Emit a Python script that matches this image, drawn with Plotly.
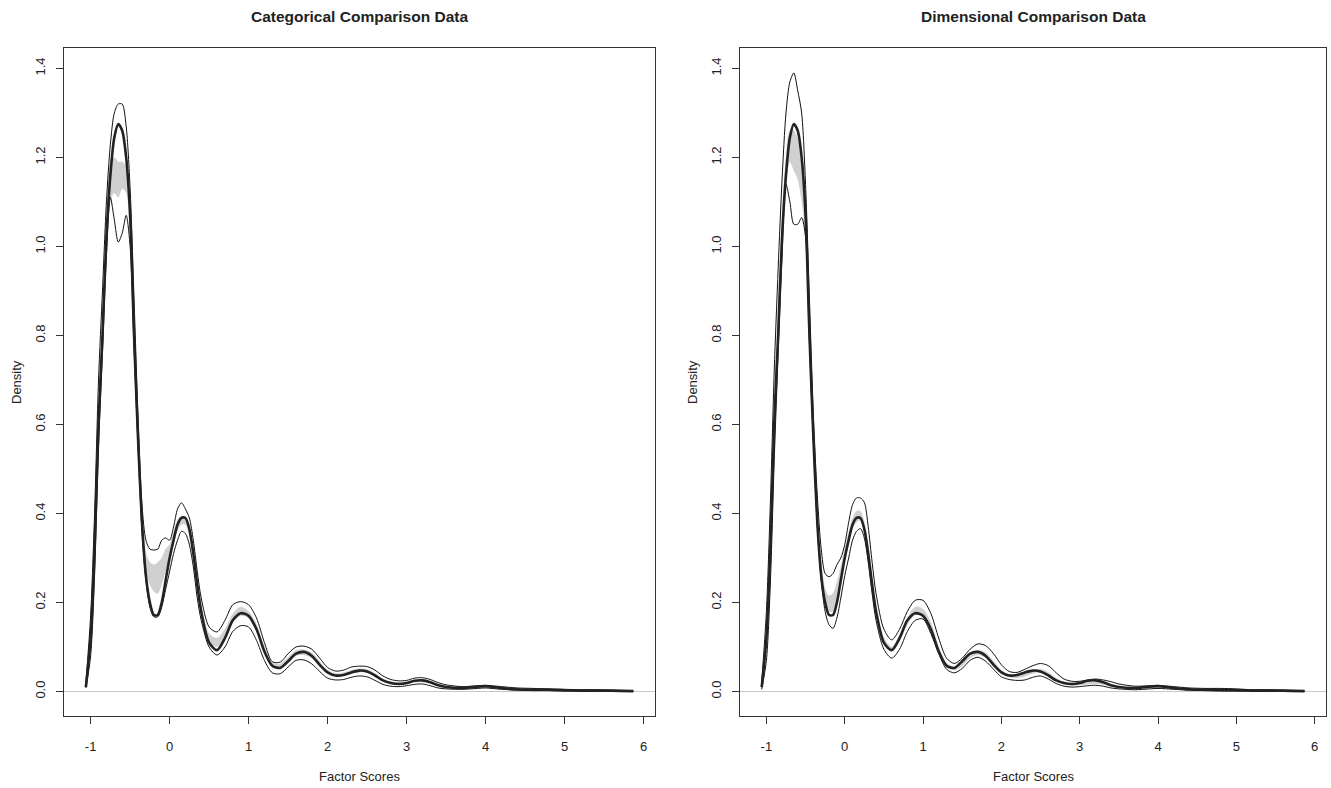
import plotly.graph_objects as go

# ---------------- data ----------------
x_grid = [-1.06, -1.0, -0.95, -0.9, -0.85, -0.8, -0.75, -0.7, -0.65, -0.6, -0.55, -0.5, -0.45, -0.4,
          -0.35, -0.3, -0.25, -0.2, -0.15, -0.1, -0.05, 0.0, 0.05, 0.1, 0.15, 0.2, 0.25, 0.3, 0.35, 0.4,
          0.5, 0.6, 0.7, 0.8, 0.9, 1.0, 1.1, 1.2, 1.3, 1.4, 1.5, 1.6, 1.7, 1.8, 1.9, 2.0, 2.1, 2.2, 2.3,
          2.4, 2.5, 2.6, 2.7, 2.8, 2.9, 3.0, 3.1, 3.2, 3.3, 3.4, 3.5, 3.7, 3.9, 4.0, 4.2, 4.4, 4.6, 4.8,
          5.0, 5.2, 5.4, 5.6, 5.87]

observed = [0.01, 0.12, 0.32, 0.60, 0.80, 1.02, 1.16, 1.245, 1.275, 1.26, 1.20, 1.07, 0.80, 0.57,
            0.38, 0.26, 0.20, 0.172, 0.172, 0.20, 0.25, 0.30, 0.34, 0.375, 0.39, 0.39, 0.365, 0.31, 0.24, 0.18,
            0.11, 0.093, 0.12, 0.16, 0.176, 0.17, 0.14, 0.09, 0.058, 0.053, 0.068, 0.085, 0.089, 0.08, 0.06,
            0.043, 0.036, 0.037, 0.043, 0.047, 0.045, 0.036, 0.025, 0.019, 0.017, 0.019, 0.024, 0.025, 0.021,
            0.014, 0.010, 0.008, 0.011, 0.012, 0.008, 0.005, 0.004, 0.004, 0.003, 0.002, 0.002, 0.002, 0.001]

cat_upper = [0.02, 0.17, 0.40, 0.70, 0.90, 1.10, 1.23, 1.30, 1.32, 1.32, 1.27, 1.13, 0.88, 0.62,
             0.42, 0.34, 0.32, 0.318, 0.32, 0.34, 0.345, 0.34, 0.37, 0.41, 0.424, 0.41, 0.39, 0.34, 0.27, 0.21,
             0.145, 0.134, 0.16, 0.195, 0.202, 0.195, 0.165, 0.11, 0.067, 0.066, 0.085, 0.10, 0.102, 0.095, 0.075,
             0.054, 0.046, 0.048, 0.055, 0.057, 0.056, 0.048, 0.035, 0.027, 0.024, 0.025, 0.03, 0.031, 0.027,
             0.02, 0.015, 0.011, 0.013, 0.014, 0.011, 0.008, 0.007, 0.006, 0.005, 0.004, 0.004, 0.003, 0.002]

cat_lower = [0.008, 0.08, 0.26, 0.55, 0.76, 0.98, 1.11, 1.06, 1.01, 1.03, 1.07, 1.00, 0.77, 0.55,
             0.36, 0.25, 0.19, 0.168, 0.168, 0.19, 0.23, 0.27, 0.31, 0.34, 0.36, 0.355, 0.33, 0.28, 0.21, 0.16,
             0.10, 0.082, 0.10, 0.135, 0.148, 0.145, 0.115, 0.07, 0.042, 0.04, 0.055, 0.07, 0.071, 0.062, 0.045,
             0.03, 0.026, 0.027, 0.032, 0.035, 0.033, 0.025, 0.016, 0.012, 0.011, 0.013, 0.016, 0.017, 0.013,
             0.008, 0.006, 0.005, 0.007, 0.008, 0.005, 0.003, 0.002, 0.002, 0.001, 0.001, 0.001, 0.001, 0.0005]

cat_band_hi = [0.012, 0.13, 0.34, 0.62, 0.82, 1.03, 1.19, 1.20, 1.19, 1.19, 1.18, 1.07, 0.80, 0.58,
               0.40, 0.31, 0.29, 0.285, 0.29, 0.30, 0.32, 0.33, 0.36, 0.385, 0.395, 0.39, 0.37, 0.32, 0.25, 0.19,
               0.13, 0.12, 0.14, 0.175, 0.19, 0.18, 0.15, 0.10, 0.065, 0.062, 0.077, 0.092, 0.094, 0.087, 0.067,
               0.048, 0.04, 0.042, 0.048, 0.051, 0.05, 0.04, 0.028, 0.022, 0.02, 0.021, 0.025, 0.026, 0.022,
               0.016, 0.012, 0.009, 0.011, 0.012, 0.009, 0.006, 0.005, 0.005, 0.004, 0.003, 0.003, 0.002, 0.0015]

cat_band_lo = [0.009, 0.10, 0.29, 0.57, 0.77, 0.99, 1.10, 1.12, 1.11, 1.13, 1.12, 1.02, 0.76, 0.55,
               0.37, 0.27, 0.24, 0.225, 0.22, 0.24, 0.27, 0.30, 0.33, 0.36, 0.375, 0.375, 0.35, 0.30, 0.23, 0.17,
               0.11, 0.10, 0.12, 0.155, 0.17, 0.165, 0.135, 0.085, 0.055, 0.052, 0.066, 0.08, 0.082, 0.075, 0.057,
               0.04, 0.034, 0.035, 0.04, 0.043, 0.042, 0.033, 0.022, 0.017, 0.015, 0.016, 0.02, 0.021, 0.017,
               0.012, 0.008, 0.006, 0.008, 0.009, 0.006, 0.004, 0.003, 0.003, 0.002, 0.001, 0.001, 0.001, 0.0005]

dim_upper = [0.02, 0.18, 0.42, 0.72, 0.95, 1.15, 1.30, 1.37, 1.39, 1.35, 1.30, 1.14, 0.88, 0.62,
             0.44, 0.32, 0.265, 0.258, 0.265, 0.285, 0.30, 0.33, 0.38, 0.42, 0.435, 0.435, 0.425, 0.37, 0.29, 0.22,
             0.14, 0.116, 0.14, 0.18, 0.205, 0.205, 0.175, 0.12, 0.075, 0.063, 0.075, 0.095, 0.107, 0.103, 0.085,
             0.06, 0.045, 0.043, 0.05, 0.058, 0.063, 0.058, 0.042, 0.028, 0.023, 0.023, 0.026, 0.028, 0.026,
             0.022, 0.017, 0.012, 0.013, 0.014, 0.011, 0.008, 0.007, 0.007, 0.006, 0.004, 0.004, 0.003, 0.002]

dim_lower = [0.005, 0.07, 0.24, 0.52, 0.76, 0.98, 1.14, 1.10, 1.05, 1.05, 1.065, 1.02, 0.78, 0.56,
             0.37, 0.25, 0.18, 0.15, 0.142, 0.165, 0.21, 0.26, 0.30, 0.34, 0.36, 0.366, 0.345, 0.29, 0.22, 0.16,
             0.095, 0.075, 0.095, 0.135, 0.16, 0.163, 0.13, 0.085, 0.05, 0.042, 0.052, 0.07, 0.077, 0.068, 0.05,
             0.033, 0.027, 0.025, 0.026, 0.032, 0.035, 0.028, 0.018, 0.012, 0.010, 0.011, 0.013, 0.014, 0.012,
             0.008, 0.006, 0.004, 0.006, 0.007, 0.005, 0.003, 0.002, 0.001, 0.001, 0.001, 0.001, 0.001, 0.0005]

dim_band_hi = [0.012, 0.13, 0.34, 0.63, 0.84, 1.06, 1.20, 1.26, 1.26, 1.24, 1.18, 1.07, 0.81, 0.59,
               0.40, 0.29, 0.23, 0.215, 0.22, 0.245, 0.28, 0.32, 0.355, 0.39, 0.405, 0.405, 0.38, 0.325, 0.255, 0.19,
               0.12, 0.10, 0.125, 0.165, 0.19, 0.185, 0.155, 0.10, 0.064, 0.055, 0.066, 0.085, 0.093, 0.087, 0.068,
               0.048, 0.038, 0.036, 0.041, 0.048, 0.05, 0.043, 0.03, 0.02, 0.017, 0.018, 0.021, 0.022, 0.019,
               0.014, 0.011, 0.008, 0.01, 0.011, 0.008, 0.006, 0.005, 0.004, 0.004, 0.003, 0.003, 0.002, 0.0015]

dim_band_lo = [0.009, 0.10, 0.29, 0.57, 0.78, 1.00, 1.14, 1.19, 1.17, 1.15, 1.10, 1.02, 0.77, 0.55,
               0.37, 0.26, 0.20, 0.18, 0.18, 0.21, 0.25, 0.29, 0.33, 0.365, 0.38, 0.385, 0.36, 0.305, 0.235, 0.175,
               0.105, 0.09, 0.112, 0.15, 0.172, 0.168, 0.138, 0.088, 0.055, 0.048, 0.057, 0.075, 0.082, 0.075, 0.058,
               0.04, 0.032, 0.03, 0.034, 0.04, 0.042, 0.035, 0.023, 0.015, 0.013, 0.014, 0.016, 0.017, 0.015,
               0.011, 0.008, 0.006, 0.008, 0.008, 0.006, 0.004, 0.003, 0.003, 0.002, 0.001, 0.001, 0.001, 0.0005]

panel_titles = ["Categorical Comparison Data", "Dimensional Comparison Data"]
x_ticks = [-1, 0, 1, 2, 3, 4, 5, 6]
y_ticks = [0.0, 0.2, 0.4, 0.6, 0.8, 1.0, 1.2, 1.4]
y_tick_text = ["0.0", "0.2", "0.4", "0.6", "0.8", "1.0", "1.2", "1.4"]
x_label = "Factor Scores"
y_label = "Density"

# ---------------- figure ----------------
W, H = 1331, 788
FONT = "Liberation Sans, Arial, Helvetica, sans-serif"
BAND = "#d0d0d0"
SMOOTH = 0.8
AX_FS = 13
TITLE_FS = 15.5

panels = [
    dict(title=panel_titles[0], upper=cat_upper, lower=cat_lower, bhi=cat_band_hi, blo=cat_band_lo,
         box=(64, 655)),
    dict(title=panel_titles[1], upper=dim_upper, lower=dim_lower, bhi=dim_band_hi, blo=dim_band_lo,
         box=(740, 1326)),
]
box_top, box_bottom = 48, 716
ydom = [(H - box_bottom) / H, (H - box_top) / H]

fig = go.Figure()
layout = dict(width=W, height=H, margin=dict(l=0, r=0, t=0, b=0),
              paper_bgcolor="white", plot_bgcolor="white", showlegend=False,
              font=dict(family=FONT, color="#222222", size=AX_FS))
annotations = []
shapes = []

for i, p in enumerate(panels, start=1):
    xa = "x" if i == 1 else f"x{i}"
    ya = "y" if i == 1 else f"y{i}"
    # gray band
    fig.add_trace(go.Scatter(x=x_grid, y=p["blo"], mode="lines", xaxis=xa, yaxis=ya,
                             line=dict(width=0, color=BAND, shape="spline", smoothing=SMOOTH),
                             hoverinfo="skip"))
    fig.add_trace(go.Scatter(x=x_grid, y=p["bhi"], mode="lines", xaxis=xa, yaxis=ya, fill="tonexty",
                             fillcolor=BAND, line=dict(width=0.5, color=BAND, shape="spline", smoothing=SMOOTH),
                             hoverinfo="skip"))
    # thin envelope lines
    for key in ("upper", "lower"):
        fig.add_trace(go.Scatter(x=x_grid, y=p[key], mode="lines", xaxis=xa, yaxis=ya,
                                 line=dict(width=1, color="#111111", shape="spline", smoothing=SMOOTH)))
    # thick observed line
    fig.add_trace(go.Scatter(x=x_grid, y=observed, mode="lines", xaxis=xa, yaxis=ya,
                             line=dict(width=2.6, color="#222222", shape="spline", smoothing=SMOOTH)))

    x0, x1 = p["box"]
    xdom = [x0 / W, x1 / W]
    axkey = "xaxis" if i == 1 else f"xaxis{i}"
    aykey = "yaxis" if i == 1 else f"yaxis{i}"
    layout[axkey] = dict(domain=xdom, anchor=ya, range=[-1.337, 6.144], tickmode="array",
                         tickvals=x_ticks, ticktext=[str(t) for t in x_ticks],
                         showgrid=False, zeroline=False, showline=True, mirror=True,
                         linecolor="#333333", linewidth=1, ticks="outside", ticklen=7,
                         tickcolor="#333333", tickfont=dict(size=AX_FS, family=FONT, color="#222222"),
                         ticklabelstandoff=11)
    layout[aykey] = dict(domain=ydom, anchor=xa, range=[-0.055, 1.446], tickmode="array",
                         tickvals=y_ticks, ticktext=y_tick_text, tickangle=-90,
                         showgrid=False, zeroline=False, showline=True, mirror=True,
                         linecolor="#333333", linewidth=1, ticks="outside", ticklen=7,
                         tickcolor="#333333", tickfont=dict(size=AX_FS, family=FONT, color="#222222"),
                         ticklabelstandoff=6)
    # horizontal reference line at 0
    shapes.append(dict(type="line", xref=f"{xa} domain", yref=ya, x0=0, x1=1, y0=0, y1=0,
                       line=dict(color="#c8c8c8", width=1), layer="below"))
    cx = (x0 + x1) / 2 / W
    annotations.append(dict(text=f"<b>{p['title']}</b>", x=cx, y=1 - 17 / H, xref="paper", yref="paper",
                            showarrow=False, xanchor="center", yanchor="middle",
                            font=dict(size=TITLE_FS, family=FONT, color="#222222")))
    annotations.append(dict(text=x_label, x=cx, y=1 - 776 / H, xref="paper", yref="paper",
                            showarrow=False, xanchor="center", yanchor="middle",
                            font=dict(size=AX_FS, family=FONT, color="#222222")))
    annotations.append(dict(text=y_label, x=(x0 - 47) / W, y=(H - (box_top + box_bottom) / 2) / H,
                            xref="paper", yref="paper", textangle=-90, showarrow=False,
                            xanchor="center", yanchor="middle",
                            font=dict(size=AX_FS, family=FONT, color="#222222")))

layout["annotations"] = annotations
layout["shapes"] = shapes
fig.update_layout(**layout)
fig.write_html("out.html", config={"displayModeBar": False},
               post_script="document.body.style.margin='0';document.body.style.overflow='hidden';")
